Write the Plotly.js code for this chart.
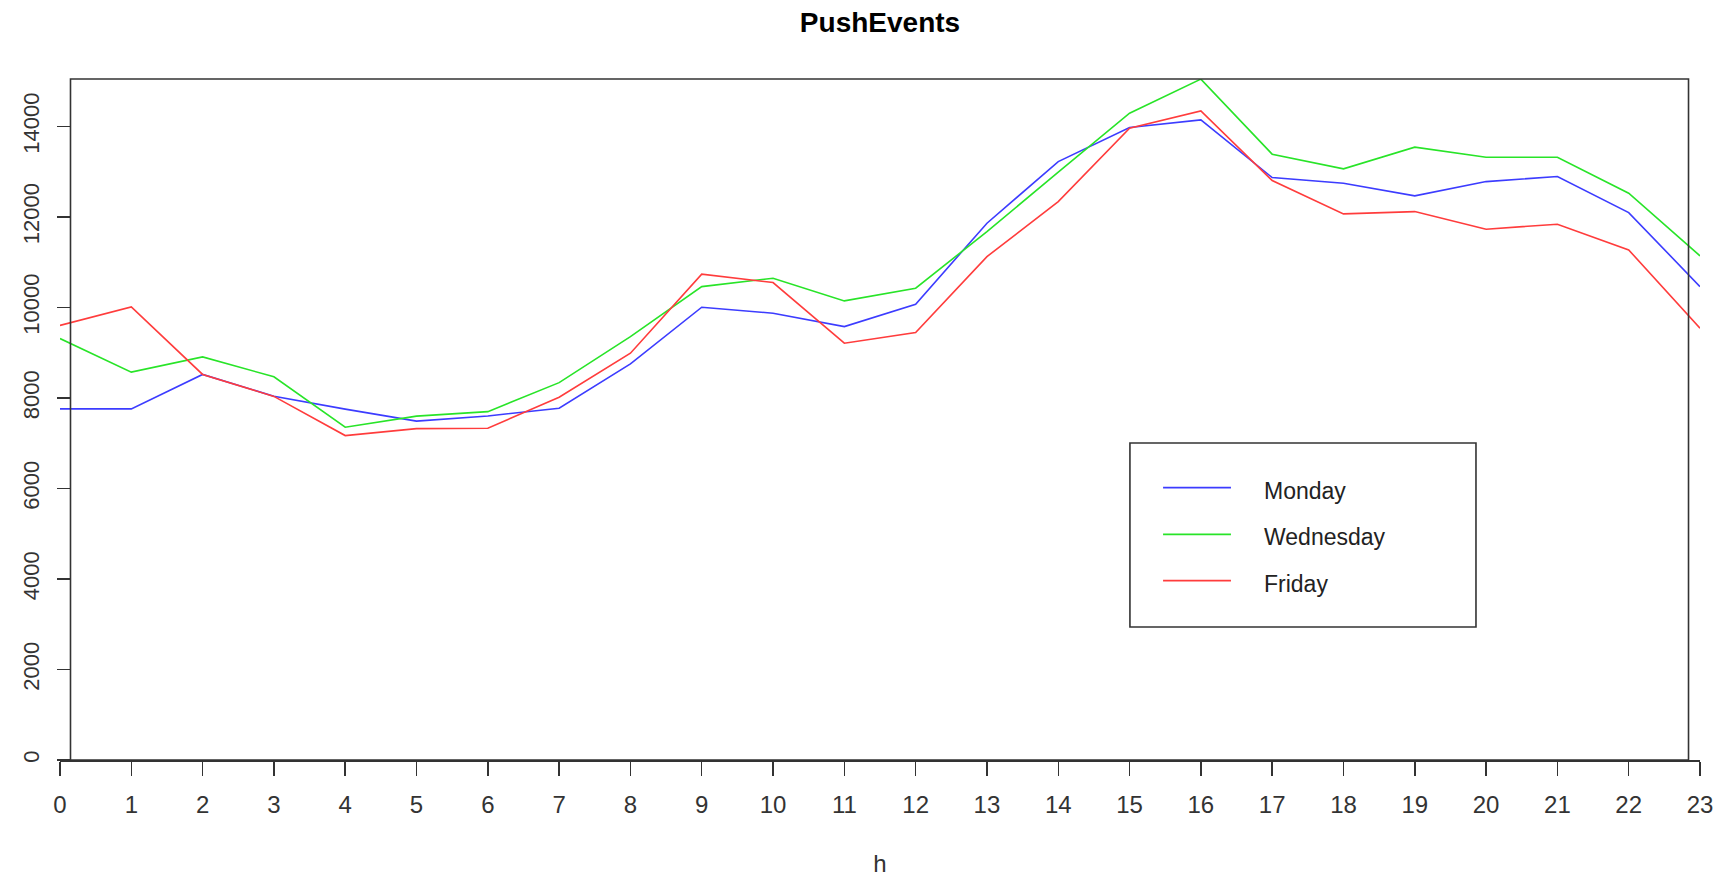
<!DOCTYPE html>
<html>
<head>
<meta charset="utf-8">
<script src="https://cdn.plot.ly/plotly-3.0.1.min.js"></script>
<style>
  html, body { margin: 0; padding: 0; background: #ffffff; }
  #chart { width: 1727px; height: 878px; }
</style>
</head>
<body>
<div id="chart"></div>
<script>
// ---- data ----
const hours = [0,1,2,3,4,5,6,7,8,9,10,11,12,13,14,15,16,17,18,19,20,21,22,23];
const monday    = [7760, 7760, 8520, 8040, 7755, 7490, 7604, 7774, 8753, 10006, 9874, 9578, 10073, 11863, 13225, 13977, 14147, 12872, 12747, 12467, 12783, 12894, 12098, 10462];
const wednesday = [9313, 8572, 8908, 8470, 7354, 7600, 7699, 8340, 9357, 10462, 10647, 10146, 10426, 11678, 12991, 14294, 15047, 13389, 13064, 13543, 13322, 13322, 12526, 11141];
const friday    = [9604, 10013, 8521, 8035, 7170, 7323, 7332, 8017, 8990, 10736, 10551, 9211, 9446, 11125, 12341, 13963, 14346, 12805, 12069, 12120, 11730, 11841, 11273, 9542];
const seriesNames  = ["Monday", "Wednesday", "Friday"];
const seriesValues = [monday, wednesday, friday];
const seriesColors = ["rgb(60,60,255)", "rgb(40,228,40)", "rgb(255,60,60)"];
const yTicks = [0, 2000, 4000, 6000, 8000, 10000, 12000, 14000];
const titleText = "PushEvents";
const xTitle = "h";

const FONT = "Liberation Sans, Arial, sans-serif";
const INK = "#333333";

const traces = seriesNames.map((name, i) => ({
  type: "scatter",
  mode: "lines",
  name: name,
  x: hours,
  y: seriesValues[i],
  line: { color: seriesColors[i], width: 1.6 },
  showlegend: false,
  hoverinfo: "skip"
}));

// custom R-style legend (box, line samples, labels)
const legBox = { x0: 0.6524, x1: 0.8634, y0: 0.1953, y1: 0.4655 };
const legRowY = [0.3999, 0.3314, 0.2633];
const shapes = [
  // plot frame (R box)
  { type: "rect", xref: "paper", yref: "paper", x0: 0.0064, x1: 0.9930, y0: 0, y1: 1,
    line: { color: INK, width: 1.6 }, fillcolor: "rgba(0,0,0,0)", layer: "above" },
  { type: "rect", xref: "paper", yref: "paper", x0: legBox.x0, x1: legBox.x1, y0: legBox.y0, y1: legBox.y1,
    line: { color: INK, width: 1.6 }, fillcolor: "#ffffff", layer: "above" }
];
const annotations = [];
seriesNames.forEach((name, i) => {
  shapes.push({ type: "line", xref: "paper", yref: "paper", x0: 0.6726, x1: 0.7140, y0: legRowY[i], y1: legRowY[i],
    line: { color: seriesColors[i], width: 1.8 }, layer: "above" });
  annotations.push({ xref: "paper", yref: "paper", x: 0.7328, y: legRowY[i], xanchor: "left", yanchor: "middle",
    yshift: -3, text: name, showarrow: false, font: { family: FONT, size: 23, color: "#222222" } });
});

const layout = {
  width: 1727,
  height: 878,
  margin: { l: 60, r: 27, t: 79, b: 118, pad: 0 },
  paper_bgcolor: "#ffffff",
  plot_bgcolor: "#ffffff",
  showlegend: false,
  title: {
    text: "<b>" + titleText + "</b>",
    font: { family: FONT, size: 28, color: "#000000" },
    x: 0.5, xref: "paper", xanchor: "center",
    y: 0.975, yref: "container", yanchor: "middle"
  },
  xaxis: {
    range: [0, 23],
    tickmode: "array",
    tickvals: hours,
    ticktext: hours.map(String),
    ticks: "outside",
    ticklen: 14,
    tickwidth: 1.5,
    tickcolor: INK,
    showline: true,
    linecolor: INK,
    linewidth: 1.6,
    showgrid: false,
    zeroline: false,
    tickfont: { family: FONT, size: 24, color: INK },
    ticklabelstandoff: 9,
    title: { text: xTitle, font: { family: FONT, size: 24, color: INK }, standoff: 38 }
  },
  yaxis: {
    range: [0, 15050],
    anchor: "free",
    position: 0.0064,
    tickmode: "array",
    tickvals: yTicks,
    ticktext: yTicks.map(String),
    ticks: "outside",
    ticklen: 13,
    tickwidth: 1.5,
    tickcolor: INK,
    tickangle: -90,
    showline: false,
    showgrid: false,
    zeroline: false,
    tickfont: { family: FONT, size: 22, color: INK },
    ticklabelstandoff: 10
  },
  shapes: shapes,
  annotations: annotations
};

Plotly.newPlot("chart", traces, layout, { displayModeBar: false, staticPlot: true });
</script>
</body>
</html>
